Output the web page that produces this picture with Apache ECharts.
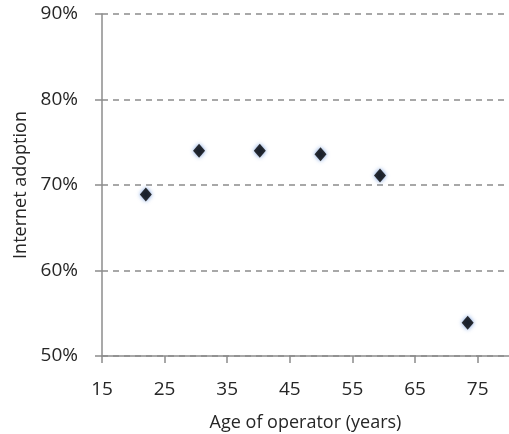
<!DOCTYPE html>
<html>
<head>
<meta charset="utf-8">
<script src="https://cdn.jsdelivr.net/npm/echarts@6/dist/echarts.min.js"></script>
<style>
  html, body { margin: 0; padding: 0; background: #fff; }
  #chart { width: 509px; height: 434px; }
</style>
</head>
<body>
<div id="chart"></div>
<script>
// age of operator (years) and internet adoption (%)
const ages = [22.0, 30.5, 40.2, 49.9, 59.4, 73.4]
const adoption = [68.9, 74.0, 74.0, 73.6, 71.1, 53.9]

const xTitle = 'Age of operator (years)'
const yTitle = 'Internet adoption'

const points = ages.map((a, i) => [a, adoption[i]])

const chart = echarts.init(document.getElementById('chart'))
const fontFamily = '"Open Sans", sans-serif'
const textColor = '#262626'
const axisColor = '#8c8c8c'

chart.setOption({
  animation: false,
  grid: { left: 102, right: 0, top: 14, bottom: 78, outerBoundsMode: 'none' },
  xAxis: {
    type: 'value',
    min: 15,
    max: 80,
    interval: 10,
    name: xTitle,
    nameLocation: 'middle',
    nameGap: 58,
    nameTextStyle: { color: textColor, fontSize: 18, fontFamily: fontFamily },
    axisLine: { show: true, lineStyle: { color: axisColor, width: 1.5 } },
    axisTick: { show: true, length: 7, lineStyle: { color: axisColor, width: 1.5 } },
    axisLabel: {
      color: textColor, fontSize: 19, fontFamily: fontFamily, margin: 24,
      showMaxLabel: false
    },
    splitLine: { show: false }
  },
  yAxis: {
    type: 'value',
    min: 50,
    max: 90,
    interval: 10,
    name: yTitle,
    nameLocation: 'middle',
    nameGap: 70,
    nameTextStyle: { color: textColor, fontSize: 18, fontFamily: fontFamily },
    axisLine: { show: true, lineStyle: { color: axisColor, width: 1.5 } },
    axisTick: { show: true, length: 7, lineStyle: { color: axisColor, width: 1.5 } },
    axisLabel: {
      color: textColor, fontSize: 19, fontFamily: fontFamily, margin: 24,
      formatter: '{value}%'
    },
    splitLine: {
      show: true,
      lineStyle: { color: axisColor, width: 1.5, type: [6, 5] }
    }
  },
  series: [{
    type: 'scatter',
    data: points,
    symbol: 'diamond',
    symbolSize: [12, 14],
    itemStyle: {
      color: '#000',
      shadowColor: 'rgba(40,100,200,0.8)',
      shadowBlur: 4
    }
  }]
})
</script>
</body>
</html>
